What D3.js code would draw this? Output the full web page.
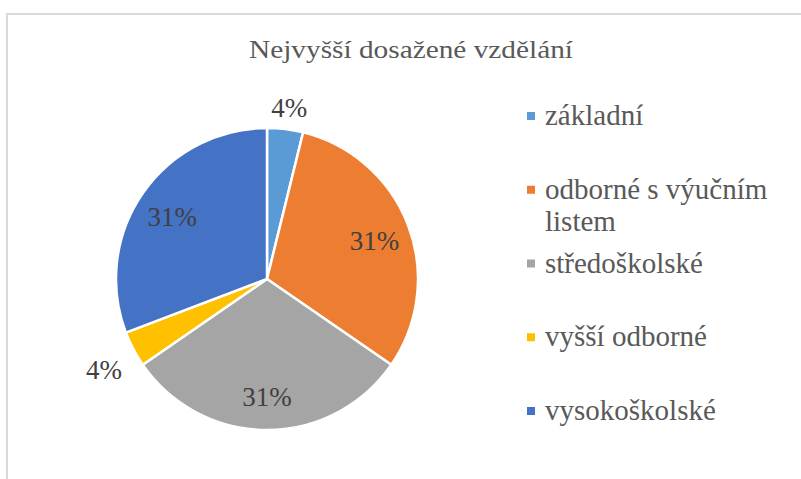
<!DOCTYPE html>
<html>
<head>
<meta charset="utf-8">
<script src="https://cdn.jsdelivr.net/npm/d3@7"></script>
<style>
  body { margin: 0; background: #fff; }
</style>
</head>
<body>
<div id="chart"></div>
<script>
// data
var categories = ['základní', 'odborné s výučním listem', 'středoškolské', 'vyšší odborné', 'vysokoškolské'];
var legendLines = [['základní'], ['odborné s výučním', 'listem'], ['středoškolské'], ['vyšší odborné'], ['vysokoškolské']];
var counts = [1, 8, 8, 1, 8];
var colors = ['#5B9BD5', '#ED7D31', '#A5A5A5', '#FFC000', '#4472C4'];
var title = 'Nejvyšší dosažené vzdělání';

var width = 801, height = 479;
var cx = 267, cy = 279, radius = 151;
var serif = "'Liberation Serif', 'Times New Roman', serif";

var svg = d3.select('#chart').append('svg')
  .attr('width', width)
  .attr('height', height)
  .attr('font-family', serif);

// chart frame (runs off the right / bottom edge)
svg.append('rect')
  .attr('x', 7).attr('y', 14)
  .attr('width', 820).attr('height', 500)
  .attr('fill', '#fff')
  .attr('stroke', '#d9d9d9')
  .attr('stroke-width', 2);

svg.append('text')
  .attr('x', 411).attr('y', 58)
  .attr('text-anchor', 'middle')
  .attr('fill', '#595959')
  .attr('font-size', 25)
  .attr('textLength', 324)
  .attr('lengthAdjust', 'spacingAndGlyphs')
  .text(title);

var total = d3.sum(counts);
var pie = d3.pie().sort(null).value(function(d) { return d; });
var arcs = pie(counts);

var arc = d3.arc().innerRadius(0).outerRadius(radius);
var labelArc = d3.arc().innerRadius(115).outerRadius(115);

var g = svg.append('g').attr('transform', 'translate(' + cx + ',' + cy + ')');

g.selectAll('path')
  .data(arcs)
  .enter()
  .append('path')
  .attr('d', arc)
  .attr('fill', function(d, i) { return colors[i]; })
  .attr('stroke', '#fff')
  .attr('stroke-width', 2.5)
  .attr('stroke-linejoin', 'round');

// labels: big slices inside, small slices outside
g.selectAll('text.lbl')
  .data(arcs)
  .enter()
  .append('text')
  .attr('class', 'lbl')
  .attr('text-anchor', 'middle')
  .attr('fill', '#404040')
  .attr('font-size', 27)
  .attr('transform', function(d) {
    var pct = d.data / total;
    var p;
    if (pct > 0.1) {
      p = labelArc.centroid(d);
      return 'translate(' + p[0] + ',' + (p[1] + 12) + ')';
    }
    var a = (d.startAngle + d.endAngle) / 2;
    var s = Math.sin(a), c = Math.cos(a);
    var r = radius + 14;
    var x = r * s + s * 19, y = -r * c - c * 9 + Math.abs(s) * 12;
    return 'translate(' + x + ',' + (y + 9) + ')';
  })
  .text(function(d) { return Math.round(d.data / total * 100) + '%'; });

// legend
var legendY = d3.scalePoint().domain(categories).range([125, 420]);

var leg = svg.selectAll('g.leg')
  .data(categories)
  .enter()
  .append('g')
  .attr('class', 'leg')
  .attr('transform', function(d) { return 'translate(527,' + legendY(d) + ')'; });

leg.append('rect')
  .attr('x', 0).attr('y', -13)
  .attr('width', 8).attr('height', 8)
  .attr('fill', function(d, i) { return colors[i]; });

leg.append('text')
  .attr('x', 18)
  .attr('fill', '#595959')
  .attr('font-size', 29)
  .selectAll('tspan')
  .data(function(d, i) { return legendLines[i]; })
  .enter()
  .append('tspan')
  .attr('x', 18)
  .attr('dy', function(d, i) { return i ? 32 : 0; })
  .text(function(d) { return d; });
</script>
</body>
</html>
